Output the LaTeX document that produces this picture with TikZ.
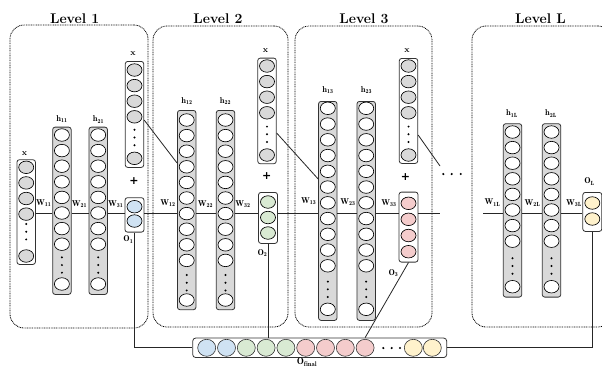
\documentclass[tikz,border=0pt]{standalone}
\usepackage{fontspec}
\newfontfamily\plusfont{DejaVu Sans}
\usetikzlibrary{shapes.geometric}
\definecolor{boxgray}{HTML}{D9D9D9}
\definecolor{cblue}{HTML}{CFE2F3}
\definecolor{cgreen}{HTML}{D9EAD3}
\definecolor{cpink}{HTML}{F4CCCC}
\definecolor{cyellow}{HTML}{FFF2CC}
\definecolor{edgegray}{HTML}{333333}
\begin{document}
\begin{tikzpicture}[x=1pt,y=-1pt,
  levelbox/.style={draw=black, line width=0.8pt, dash pattern=on 0.9pt off 0.8pt, rounded corners=14pt, inner sep=0},
  title/.style={font=\bfseries\fontsize{14}{14}\selectfont, inner sep=0, anchor=base},
  hcolbox/.style={draw=edgegray, fill=boxgray, line width=0.8pt, rounded corners=2.5pt, minimum width=18.5pt, inner sep=0, anchor=north},
  xcolbox/.style={draw=edgegray, fill=white, line width=0.8pt, rounded corners=2.5pt, minimum width=18.5pt, inner sep=0, anchor=north},
  obox/.style={draw=edgegray, fill=white, line width=0.8pt, rounded corners=2.5pt, minimum width=19pt, inner sep=0, anchor=north},
  fbox/.style={draw=edgegray, fill=white, line width=0.8pt, rounded corners=3pt, inner sep=0},
  cell/.style={ellipse, draw=black, line width=0.65pt, minimum width=15pt, minimum height=12.5pt, inner sep=0, fill=#1},
  fcell/.style={ellipse, draw=black!80, line width=0.6pt, minimum width=18pt, minimum height=17pt, inner sep=0, fill=#1},
  lab/.style={font=\bfseries\fontsize{8.5}{8.5}\selectfont, inner sep=0},
  plus/.style={font=\plusfont\bfseries\fontsize{11}{11}\selectfont, inner sep=0},
  conn/.style={draw=black!85, line width=0.8pt},
  dotr/.style={fill=black}
]
\useasboundingbox (0,0) rectangle (602,373);
\clip (0,0) rectangle (602,373);
\fill[white] (0,0) rectangle (602,373);

% level frames
\node[levelbox, minimum width=138pt, minimum height=303pt] (lvl1) at (79,176.5) {};
\node[levelbox, minimum width=135pt, minimum height=301pt] (lvl2) at (220.5,176.5) {};
\node[levelbox, minimum width=137pt, minimum height=301pt] (lvl3) at (363.5,176.5) {};
\node[levelbox, minimum width=140pt, minimum height=301pt] (lvlL) at (542,176.5) {};
\node[title] (t1) at (74.7,23.5) {Level 1};
\node[title] (t2) at (218,23.5) {Level 2};
\node[title] (t3) at (364,23.5) {Level 3};
\node[title] (tL) at (540.5,23.5) {Level L};

% hidden-layer columns
\foreach \nm/\cx/\tp/\bt/\n/\fs/\sp/\dm/\lc in {
  h11/61.9/126.7/294/8/135/15.6/265/284,
  h21/98.2/126.7/294/8/135/15.6/265/284,
  h12/186.7/110/309.3/10/120/15.6/282.7/300,
  h22/225.5/110/309.3/10/120/15.6/282.7/300,
  h13/327.8/101/320/11/108.3/15.75/289.3/309.3,
  h23/366.2/101/320/11/108.3/15.75/289.3/309.3,
  h1L/512.5/123.3/296.7/8/132/15.6/266/286.7,
  h2L/551.5/123.3/296.7/8/132/15.6/266/286.7}{
  \node[hcolbox, minimum height={\bt-\tp}] (\nm) at (\cx,\tp) {};
  \foreach \k in {1,...,\n}{\node[cell=white] (\nm-\k) at (\cx,{\fs+(\k-1)*\sp}) {};}
  \foreach \d in {-7.7,0,7.7}{\fill[dotr] (\cx,{\dm+\d}) circle (1.1);}
  \node[cell=white] (\nm-last) at (\cx,\lc) {};
}

% input columns
\foreach \nm/\cx/\tp/\bt/\fs/\dm/\lc in {
  x0/26.2/159.3/264/167.3/231.7/256,
  x1/134.5/61/167/70/137.5/158.3,
  x2/267/57.7/163.3/66/134.3/155,
  x3/408.5/58/163/66/134.3/155}{
  \node[xcolbox, minimum height={\bt-\tp}] (\nm) at (\cx,\tp) {};
  \foreach \k in {1,...,4}{\node[cell=boxgray] (\nm-\k) at (\cx,{\fs+(\k-1)*15.6}) {};}
  \foreach \d in {-7.7,0,7.7}{\fill[dotr] (\cx,{\dm+\d}) circle (1.1);}
  \node[cell=boxgray] (\nm-last) at (\cx,\lc) {};
}

% output boxes
\node[obox, minimum height=34.4pt] (O1) at (134.5,197.3) {};
\node[cell=cblue] (O1-1) at (134.5,206.7) {};
\node[cell=cblue] (O1-2) at (134.5,221) {};
\node[obox, minimum height=51pt] (O2) at (268,192) {};
\foreach \yy [count=\k] in {202,217.5,233}{\node[cell=cgreen] (O2-\k) at (268,\yy) {};}
\node[obox, minimum height=70pt] (O3) at (408.5,191.7) {};
\foreach \yy [count=\k] in {203.3,219.3,235.5,251.7}{\node[cell=cpink] (O3-\k) at (408.5,\yy) {};}
\node[obox, minimum height=39pt] (OL) at (592.3,192) {};
\node[cell=cyellow] (OL-1) at (592.3,203) {};
\node[cell=cyellow] (OL-2) at (592.3,219) {};

% final output
\node[fbox, minimum width=254pt, minimum height=19.5pt] (ofin) at (319.7,347.8) {};
\foreach \xx/\cc [count=\k] in {206.7/cblue,226.5/cblue,246.3/cgreen,266.1/cgreen,285.9/cgreen,305.7/cpink,325.5/cpink,345.3/cpink,365.1/cpink,413.3/cyellow,432.3/cyellow}{
  \node[fcell=\cc] (of\k) at (\xx,347.8) {};}
\foreach \xx in {383.3,391.7,400}{\fill[dotr] (\xx,348) circle (1.2);}
\foreach \xx in {443.3,451.7,460.7}{\fill[dotr] (\xx,174) circle (1.2);}

% labels
\node[lab] (lx0) at (24.5,153.5) {x};
\node[lab] (lx1) at (133,53.5) {x};
\node[lab] (lx2) at (265.5,50.5) {x};
\node[lab] (lx3) at (407,50.5) {x};
\node[lab] (lh11) at (62,119) {$\mathbf{h_{11}}$};
\node[lab] (lh21) at (98.5,119.5) {$\mathbf{h_{21}}$};
\node[lab] (lh12) at (187,101) {$\mathbf{h_{12}}$};
\node[lab] (lh22) at (225.5,101) {$\mathbf{h_{22}}$};
\node[lab] (lh13) at (328,90.5) {$\mathbf{h_{13}}$};
\node[lab] (lh23) at (366.5,90.5) {$\mathbf{h_{23}}$};
\node[lab] (lh1L) at (512,113.5) {$\mathbf{h_{1L}}$};
\node[lab] (lh2L) at (551,113.5) {$\mathbf{h_{2L}}$};
\node[lab] (w11) at (43.8,203) {$\mathbf{W_{11}}$};
\node[lab] (w21) at (79.5,204) {$\mathbf{W_{21}}$};
\node[lab] (w31) at (115.8,204.5) {$\mathbf{W_{31}}$};
\node[lab] (w12) at (168,203.5) {$\mathbf{W_{12}}$};
\node[lab] (w22) at (205.5,204) {$\mathbf{W_{22}}$};
\node[lab] (w32) at (243,204) {$\mathbf{W_{32}}$};
\node[lab] (w13) at (308.7,201.5) {$\mathbf{W_{13}}$};
\node[lab] (w23) at (348,202.5) {$\mathbf{W_{23}}$};
\node[lab] (w33) at (389,203) {$\mathbf{W_{33}}$};
\node[lab] (w1L) at (492.5,202.5) {$\mathbf{W_{1L}}$};
\node[lab] (w2L) at (532.5,203) {$\mathbf{W_{2L}}$};
\node[lab] (w3L) at (574,203) {$\mathbf{W_{3L}}$};
\node[lab] (lo1) at (128.3,239.5) {$\mathbf{O_{1}}$};
\node[lab] (lo2) at (262.5,253) {$\mathbf{O_{2}}$};
\node[lab] (lo3) at (393.5,273) {$\mathbf{O_{3}}$};
\node[lab] (loL) at (589.5,181.5) {$\mathbf{O_{L}}$};
\node[lab, font=\bfseries\fontsize{9.5}{9.5}\selectfont, anchor=north] (lof) at (307,358) {$\mathbf{O_{final}}$};
\node[plus] (p1) at (134,181) {+};
\node[plus] (p2) at (266.7,176) {+};
\node[plus] (p3) at (405.5,177) {+};

% main horizontal connectors
\coordinate (ml) at (0,213);
\coordinate (gapL) at (440,213);
\coordinate (gapR) at (483,213);
\draw[conn] (x0.east |- ml) -- (h11.west |- ml);
\draw[conn] (h11.east |- ml) -- (h21.west |- ml);
\draw[conn] (h21.east |- ml) -- (O1.west |- ml);
\draw[conn] (O1.east |- ml) -- (h12.west |- ml);
\draw[conn] (h12.east |- ml) -- (h22.west |- ml);
\draw[conn] (h22.east |- ml) -- (O2.west |- ml);
\draw[conn] (O2.east |- ml) -- (h13.west |- ml);
\draw[conn] (h13.east |- ml) -- (h23.west |- ml);
\draw[conn] (h23.east |- ml) -- (O3.west |- ml);
\draw[conn] (O3.east |- ml) -- (gapL);
\draw[conn] (gapR) -- (h1L.west |- ml);
\draw[conn] (h1L.east |- ml) -- (h2L.west |- ml);
\draw[conn] (h2L.east |- ml) -- (OL.west |- ml);

% diagonal connectors from the input copies
\coordinate (y120) at (0,120);
\coordinate (y163) at (0,163);
\coordinate (y133) at (0,133);
\coordinate (y179) at (0,179);
\coordinate (y135) at (0,135);
\coordinate (d3end) at (440,166);
\draw[conn] (x1.east |- y120) -- (h12.west |- y163);
\draw[conn] (x2.east |- y133) -- (h13.west |- y179);
\draw[conn] (x3.east |- y135) -- (d3end);

% to the final output
\draw[conn] (O1.south) -- (O1.south |- ofin.west) -- (ofin.west);
\draw[conn] (O2.south) -- (O2.south |- ofin.north);
\draw[conn] (O3.south) -- (of9 |- ofin.north);
\draw[conn] (OL.south) -- (OL.south |- ofin.east) -- (ofin.east);
\end{tikzpicture}
\end{document}
